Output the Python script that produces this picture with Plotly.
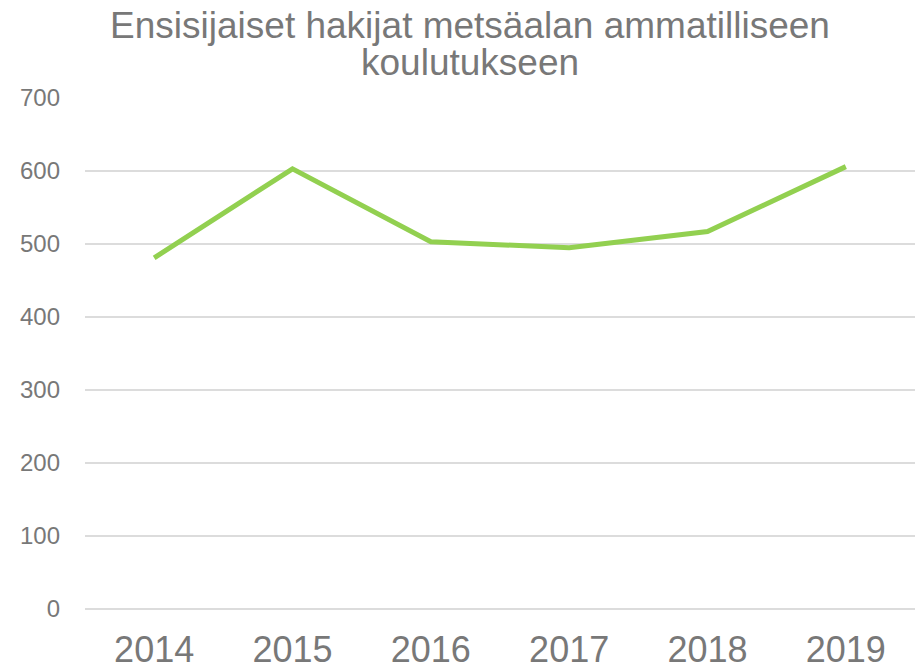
import plotly.graph_objects as go

years = ["2014", "2015", "2016", "2017", "2018", "2019"]
applicants = [481, 603, 503, 495, 517, 606]
y_ticks = [0, 100, 200, 300, 400, 500, 600, 700]

title_line1 = "Ensisijaiset hakijat metsäalan ammatilliseen"
title_line2 = "koulutukseen"
text_color = "#787878"
font_family = "Liberation Sans, Arial, sans-serif"

W, H = 920, 670
M_L, M_R, M_T, M_B = 85, 5, 97.5, 60.7
plot_h = H - M_T - M_B
plot_w = W - M_L - M_R
title_cx = 470  # px, horizontal centre of title


def paper_y(py):
    return (H - M_B - py) / plot_h


fig = go.Figure()
fig.add_trace(go.Scatter(
    x=years, y=applicants, mode="lines",
    line=dict(color="#92D050", width=5),
    hoverinfo="x+y",
))

fig.update_layout(
    width=W, height=H,
    margin=dict(l=M_L, r=M_R, t=M_T, b=M_B),
    paper_bgcolor="white", plot_bgcolor="white",
    showlegend=False,
    font=dict(family=font_family, color=text_color),
    title=dict(
        text=title_line1,
        x=title_cx / W, xanchor="center", xref="container",
        y=1 - 25 / H, yanchor="middle", yref="container",
        font=dict(size=37, color=text_color, family=font_family),
    ),
    annotations=[dict(
        text=title_line2, showarrow=False,
        x=(title_cx - M_L) / plot_w, xref="paper", xanchor="center",
        y=paper_y(62), yref="paper", yanchor="middle",
        font=dict(size=37, color=text_color, family=font_family),
    )],
    xaxis=dict(
        type="category", range=[-0.5, 5.5], automargin=False,
        showgrid=False, zeroline=False, showline=False,
        ticks="", tickfont=dict(size=36, color=text_color),
        ticklabelstandoff=16,
    ),
    yaxis=dict(
        range=[0, 700], tickvals=y_ticks, automargin=False,
        showgrid=True, gridcolor="#DCDCDC", gridwidth=1.5,
        zeroline=True, zerolinecolor="#DCDCDC", zerolinewidth=1.5,
        showline=False, ticks="",
        tickfont=dict(size=24, color=text_color),
        ticklabelstandoff=24,
    ),
)

fig.write_html("out.html")
